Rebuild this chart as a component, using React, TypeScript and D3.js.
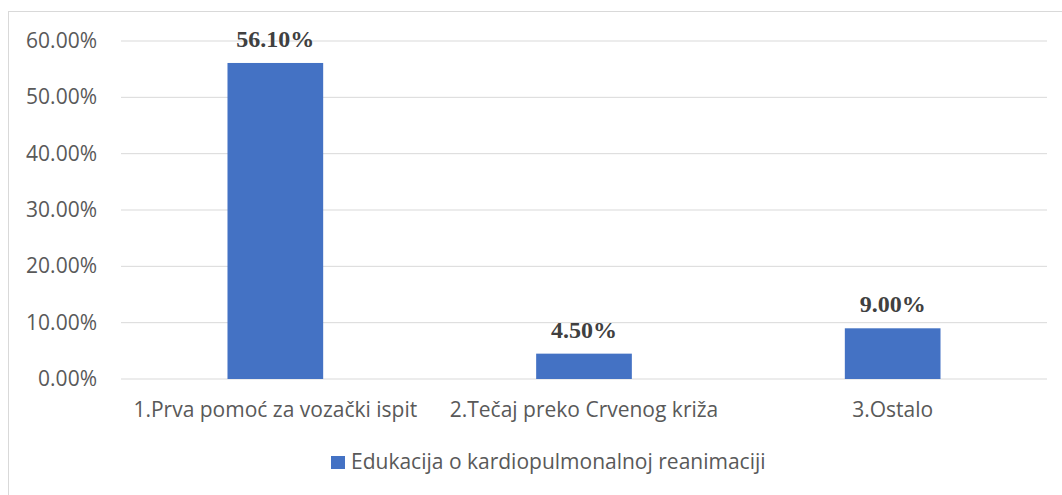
import React, { useEffect, useRef } from "react";
import * as d3 from "d3";

const categories = ["1.Prva pomoć za vozački ispit", "2.Tečaj preko Crvenog križa", "3.Ostalo"];
const values = [56.1, 4.5, 9.0];
const yTicks = [0, 10, 20, 30, 40, 50, 60];
const seriesName = "Edukacija o kardiopulmonalnoj reanimaciji";

const W = 1062;
const H = 495;

const App = () => {
  const ref = useRef<SVGSVGElement>(null);

  useEffect(() => {
    const svg = d3.select(ref.current);
    svg.selectAll("*").remove();

    const left = 121, right = 1047, top = 41, bottom = 379;

    const x = d3.scaleBand().domain(categories).range([left, right])
      .paddingInner(0.69).paddingOuter(0.345);
    const y = d3.scaleLinear().domain([0, 60]).range([bottom, top]);

    svg.append("rect").attr("width", W).attr("height", H).attr("fill", "#fff");

    // chart area border
    svg.append("rect")
      .attr("x", 8.5).attr("y", 11.5)
      .attr("width", W + 10).attr("height", H + 10)
      .attr("fill", "none").attr("stroke", "#d9d9d9");

    // gridlines
    svg.append("g").selectAll("line")
      .data(yTicks)
      .join("line")
        .attr("x1", left).attr("x2", right)
        .attr("y1", d => y(d)).attr("y2", d => y(d))
        .attr("stroke", "#d9d9d9").attr("stroke-width", 1);

    // y tick labels
    svg.append("g").selectAll("text")
      .data(yTicks)
      .join("text")
        .attr("x", 97).attr("y", d => y(d) + 7)
        .attr("text-anchor", "end")
        .attr("fill", "#595959")
        .attr("font-size", 21)
        .attr("font-family", "'Open Sans', sans-serif")
        .text(d => d.toFixed(2) + "%");

    // bars
    svg.append("g").selectAll("rect")
      .data(values)
      .join("rect")
        .attr("x", (d, i) => x(categories[i])!)
        .attr("width", x.bandwidth())
        .attr("y", d => y(d))
        .attr("height", d => bottom - y(d))
        .attr("fill", "#4472c4");

    // data labels
    svg.append("g").selectAll("text")
      .data(values)
      .join("text")
        .attr("x", (d, i) => x(categories[i])! + x.bandwidth() / 2)
        .attr("y", d => y(d) - 16)
        .attr("text-anchor", "middle")
        .attr("fill", "#404040")
        .attr("font-size", 24)
        .attr("font-weight", "bold")
        .attr("font-family", "'Liberation Serif', serif")
        .text(d => d.toFixed(2) + "%");

    // category labels
    svg.append("g").selectAll("text")
      .data(categories)
      .join("text")
        .attr("x", d => x(d)! + x.bandwidth() / 2)
        .attr("y", 417)
        .attr("text-anchor", "middle")
        .attr("fill", "#595959")
        .attr("font-size", 21)
        .attr("font-family", "'Open Sans', sans-serif")
        .text(d => d);

    // legend
    const lg = svg.append("g");
    lg.append("rect").attr("x", 331).attr("y", 456).attr("width", 14).attr("height", 13).attr("fill", "#4472c4");
    lg.append("text")
      .attr("x", 351).attr("y", 469)
      .attr("fill", "#595959")
      .attr("font-size", 21)
      .attr("font-family", "'Open Sans', sans-serif")
      .text(seriesName);
  }, []);

  return (
    <div style={{ position: "fixed", left: 0, top: 0 }}>
      <svg ref={ref} width={W} height={H} style={{ display: "block" }}></svg>
    </div>
  );
};

export default App;
